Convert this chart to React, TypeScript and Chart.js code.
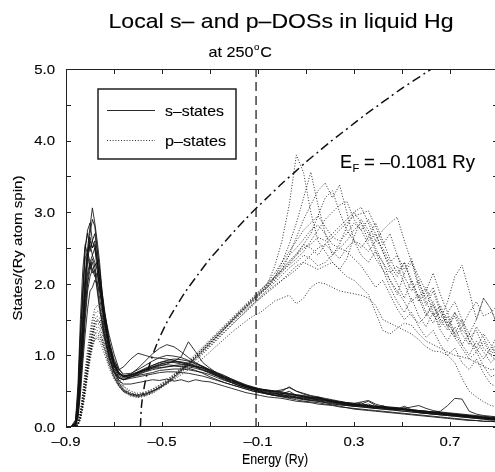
import React, { useEffect, useRef } from "react";
import { Chart, registerables } from "chart.js";

Chart.register(...registerables);

// Energy grid (Ry) shared by all local DOS curves
const ENERGY = [
  -0.90, -0.88, -0.86, -0.85, -0.84, -0.83, -0.82, -0.81, -0.80, -0.79,
  -0.78, -0.77, -0.76, -0.75, -0.74, -0.72, -0.70, -0.68, -0.66, -0.63,
  -0.60, -0.57, -0.54, -0.51, -0.48, -0.45, -0.42, -0.39, -0.36, -0.33,
  -0.30, -0.27, -0.24, -0.21, -0.18, -0.15, -0.12, -0.09, -0.06, -0.03,
  0.00, 0.03, 0.06, 0.09, 0.12, 0.15, 0.18, 0.21, 0.24, 0.27,
  0.30, 0.33, 0.36, 0.39, 0.42, 0.45, 0.48, 0.51, 0.54, 0.57,
  0.60, 0.63, 0.66, 0.69, 0.72, 0.75, 0.78, 0.81, 0.84, 0.87, 0.90,
];

// s-states (solid)
const S1 = [
  0, 0, 0.04, 0.25, 0.8, 1.3, 2.0, 2.5, 2.8, 3.06,
  2.85, 2.6, 2.3, 1.9, 1.6, 1.15, 0.9, 0.76, 0.71, 0.74,
  0.82, 0.92, 1.02, 1.1, 1.15, 1.12, 1.05, 0.97, 0.9, 0.84,
  0.78, 0.72, 0.68, 0.63, 0.6, 0.57, 0.54, 0.52, 0.5, 0.5,
  0.49, 0.47, 0.45, 0.44, 0.42, 0.41, 0.38, 0.36, 0.35, 0.33,
  0.32, 0.31, 0.3, 0.29, 0.28, 0.27, 0.26, 0.25, 0.24, 0.23,
  0.22, 0.21, 0.2, 0.19, 0.18, 0.17, 0.16, 0.15, 0.14, 0.13, 0.12,
];
const S2 = [
  0, 0, 0.06, 0.4, 1.2, 1.8, 2.5, 2.71, 2.45, 2.6,
  2.5, 2.2, 1.95, 1.7, 1.45, 1.05, 0.82, 0.7, 0.66, 0.7,
  0.74, 0.78, 0.82, 0.85, 0.88, 0.92, 0.98, 1.19, 1.05, 0.9,
  0.82, 0.75, 0.7, 0.65, 0.6, 0.56, 0.53, 0.5, 0.48, 0.47,
  0.46, 0.5, 0.44, 0.42, 0.4, 0.38, 0.37, 0.36, 0.34, 0.32,
  0.31, 0.3, 0.32, 0.28, 0.27, 0.26, 0.27, 0.24, 0.23, 0.22,
  0.21, 0.2, 0.19, 0.18, 0.17, 0.16, 0.15, 0.14, 0.13, 0.12, 0.11,
];
const S3 = [
  0, 0, 0.03, 0.2, 0.7, 1.2, 1.8, 2.3, 2.6, 2.5,
  2.55, 2.35, 2.1, 1.8, 1.55, 1.15, 0.92, 0.8, 0.84, 0.95,
  1.03, 1.0, 0.97, 0.96, 0.95, 0.93, 0.9, 0.87, 0.84, 0.8,
  0.76, 0.72, 0.68, 0.64, 0.6, 0.57, 0.55, 0.53, 0.52, 0.5,
  0.48, 0.46, 0.45, 0.43, 0.41, 0.4, 0.38, 0.36, 0.34, 0.33,
  0.31, 0.3, 0.29, 0.28, 0.27, 0.26, 0.25, 0.24, 0.23, 0.22,
  0.21, 0.2, 0.19, 0.18, 0.17, 0.16, 0.15, 0.14, 0.13, 0.12, 0.11,
];
const S4 = [
  0, 0, 0.05, 0.3, 0.9, 1.4, 1.85, 2.15, 2.3, 2.2,
  2.25, 2.05, 1.8, 1.6, 1.35, 1.0, 0.78, 0.65, 0.6, 0.6,
  0.62, 0.64, 0.66, 0.65, 0.67, 0.64, 0.66, 0.63, 0.66, 0.64,
  0.63, 0.6, 0.57, 0.54, 0.51, 0.48, 0.46, 0.44, 0.42, 0.41,
  0.4, 0.38, 0.36, 0.35, 0.34, 0.32, 0.31, 0.3, 0.28, 0.27,
  0.26, 0.25, 0.24, 0.23, 0.22, 0.21, 0.2, 0.19, 0.18, 0.17,
  0.16, 0.15, 0.14, 0.13, 0.12, 0.11, 0.1, 0.09, 0.08, 0.08, 0.07,
];
const S5 = [
  0, 0, 0.08, 0.5, 1.3, 1.9, 2.35, 2.45, 2.3, 2.15,
  2.2, 1.95, 1.7, 1.5, 1.3, 0.98, 0.78, 0.69, 0.66, 0.7,
  0.73, 0.77, 0.8, 0.82, 0.84, 0.85, 0.85, 0.84, 0.82, 0.79,
  0.75, 0.71, 0.67, 0.62, 0.58, 0.55, 0.52, 0.49, 0.47, 0.46,
  0.45, 0.43, 0.42, 0.4, 0.39, 0.38, 0.36, 0.35, 0.33, 0.31,
  0.29, 0.34, 0.28, 0.26, 0.25, 0.24, 0.23, 0.22, 0.21, 0.2,
  0.19, 0.18, 0.17, 0.16, 0.15, 0.14, 0.13, 0.12, 0.11, 0.1, 0.1,
];
const S6 = [
  0, 0, 0.02, 0.15, 0.55, 1.0, 1.5, 1.9, 2.1, 2.2,
  2.1, 2.15, 1.95, 1.7, 1.5, 1.1, 0.88, 0.76, 0.7, 0.7,
  0.72, 0.74, 0.76, 0.79, 0.8, 0.81, 0.81, 0.8, 0.78, 0.76,
  0.73, 0.69, 0.65, 0.62, 0.58, 0.55, 0.52, 0.5, 0.47, 0.45,
  0.44, 0.42, 0.41, 0.39, 0.37, 0.36, 0.34, 0.33, 0.31, 0.3,
  0.29, 0.28, 0.27, 0.26, 0.3, 0.25, 0.23, 0.22, 0.21, 0.2,
  0.19, 0.18, 0.17, 0.17, 0.16, 0.15, 0.14, 0.13, 0.12, 0.11, 0.1,
];
const S7 = [
  0, 0, 0.02, 0.12, 0.45, 0.9, 1.3, 1.65, 1.9, 1.95,
  2.05, 2.0, 1.9, 1.75, 1.6, 1.28, 1.02, 0.82, 0.72, 0.72,
  0.76, 0.8, 0.83, 0.87, 0.9, 0.91, 0.9, 0.88, 0.85, 0.82,
  0.78, 0.74, 0.7, 0.66, 0.62, 0.58, 0.55, 0.52, 0.5, 0.48,
  0.47, 0.46, 0.44, 0.43, 0.41, 0.4, 0.38, 0.37, 0.35, 0.34,
  0.32, 0.31, 0.3, 0.29, 0.28, 0.27, 0.26, 0.25, 0.24, 0.23,
  0.22, 0.21, 0.22, 0.3, 0.4, 0.39, 0.22, 0.18, 0.16, 0.15, 0.14,
];
const S8 = [
  0, 0, 0.05, 0.35, 1.0, 1.6, 2.15, 2.45, 2.55, 2.4,
  2.5, 2.3, 2.05, 1.8, 1.55, 1.12, 0.88, 0.76, 0.71, 0.73,
  0.77, 0.81, 0.86, 0.9, 0.93, 0.95, 0.94, 0.92, 0.88, 0.84,
  0.79, 0.74, 0.69, 0.65, 0.61, 0.57, 0.54, 0.52, 0.51, 0.5,
  0.5, 0.56, 0.5, 0.46, 0.43, 0.41, 0.39, 0.37, 0.35, 0.34,
  0.33, 0.32, 0.36, 0.3, 0.28, 0.27, 0.26, 0.25, 0.24, 0.23,
  0.22, 0.21, 0.2, 0.19, 0.18, 0.17, 0.16, 0.15, 0.14, 0.13, 0.13,
];
const S9 = [
  0, 0, 0.07, 0.45, 1.25, 1.9, 2.5, 2.75, 2.85, 2.6,
  2.7, 2.45, 2.2, 1.9, 1.65, 1.2, 0.9, 0.76, 0.7, 0.72,
  0.76, 0.8, 0.84, 0.86, 0.87, 0.86, 0.84, 0.82, 0.79, 0.75,
  0.7, 0.66, 0.62, 0.59, 0.56, 0.53, 0.5, 0.48, 0.46, 0.44,
  0.43, 0.42, 0.41, 0.39, 0.38, 0.37, 0.35, 0.34, 0.32, 0.31,
  0.3, 0.29, 0.28, 0.27, 0.26, 0.25, 0.24, 0.27, 0.22, 0.21,
  0.2, 0.19, 0.18, 0.17, 0.16, 0.15, 0.14, 0.13, 0.12, 0.11, 0.1,
];
const S10 = [
  0, 0, 0.03, 0.2, 0.65, 1.1, 1.6, 2.0, 2.2, 2.35,
  2.25, 2.3, 2.05, 1.85, 1.6, 1.2, 0.95, 0.8, 0.74, 0.75,
  0.8, 0.86, 0.92, 0.97, 1.0, 0.99, 0.97, 0.93, 0.89, 0.85,
  0.8, 0.75, 0.71, 0.67, 0.63, 0.59, 0.56, 0.53, 0.51, 0.49,
  0.47, 0.45, 0.44, 0.42, 0.4, 0.39, 0.37, 0.35, 0.34, 0.32,
  0.31, 0.3, 0.29, 0.28, 0.27, 0.26, 0.25, 0.24, 0.23, 0.22,
  0.21, 0.2, 0.19, 0.18, 0.17, 0.16, 0.15, 0.14, 0.13, 0.12, 0.11,
];
const S11 = [
  0, 0, 0.03, 0.22, 0.75, 1.35, 1.95, 2.4, 2.7, 2.9,
  2.8, 2.5, 2.2, 1.85, 1.55, 1.12, 0.86, 0.72, 0.68, 0.7,
  0.75, 0.8, 0.84, 0.88, 0.9, 0.9, 0.88, 0.86, 0.84, 0.8,
  0.76, 0.71, 0.66, 0.62, 0.58, 0.55, 0.52, 0.49, 0.46, 0.44,
  0.43, 0.41, 0.4, 0.38, 0.37, 0.36, 0.34, 0.32, 0.31, 0.3,
  0.29, 0.28, 0.27, 0.26, 0.25, 0.24, 0.25, 0.29, 0.24, 0.2,
  0.19, 0.18, 0.17, 0.16, 0.15, 0.14, 0.13, 0.12, 0.11, 0.1, 0.09,
];
const S12 = [
  0, 0, 0.1, 0.6, 1.5, 2.2, 2.55, 2.4, 2.2, 2.3,
  2.15, 1.9, 1.65, 1.45, 1.25, 0.95, 0.76, 0.68, 0.66, 0.68,
  0.7, 0.72, 0.74, 0.76, 0.77, 0.77, 0.76, 0.75, 0.73, 0.71,
  0.68, 0.65, 0.62, 0.59, 0.56, 0.53, 0.5, 0.48, 0.46, 0.44,
  0.42, 0.4, 0.38, 0.36, 0.35, 0.34, 0.32, 0.31, 0.29, 0.27,
  0.25, 0.24, 0.23, 0.22, 0.21, 0.2, 0.19, 0.18, 0.17, 0.16,
  0.15, 0.14, 0.13, 0.12, 0.11, 0.1, 0.09, 0.09, 0.08, 0.08, 0.07,
];
const S13 = [
  0, 0, 0.04, 0.28, 0.85, 1.5, 2.05, 2.4, 2.65, 2.5,
  2.6, 2.35, 2.05, 1.75, 1.5, 1.1, 0.86, 0.74, 0.7, 0.72,
  0.76, 0.79, 0.82, 0.83, 0.84, 0.86, 0.87, 0.86, 0.84, 0.83,
  0.8, 0.76, 0.72, 0.67, 0.62, 0.58, 0.55, 0.53, 0.51, 0.5,
  0.52, 0.55, 0.5, 0.47, 0.44, 0.42, 0.4, 0.38, 0.36, 0.34,
  0.33, 0.35, 0.37, 0.32, 0.29, 0.28, 0.27, 0.26, 0.28, 0.3,
  0.26, 0.23, 0.21, 0.2, 0.19, 0.18, 0.17, 0.16, 0.15, 0.14, 0.13,
];
const S14 = [
  0, 0, 0.02, 0.18, 0.6, 1.15, 1.7, 2.05, 2.3, 2.4,
  2.3, 2.2, 1.95, 1.7, 1.45, 1.08, 0.85, 0.74, 0.71, 0.73,
  0.77, 0.82, 0.86, 0.9, 0.92, 0.92, 0.91, 0.89, 0.86, 0.82,
  0.77, 0.73, 0.69, 0.65, 0.61, 0.57, 0.54, 0.51, 0.49, 0.47,
  0.45, 0.44, 0.42, 0.41, 0.4, 0.42, 0.38, 0.35, 0.33, 0.32,
  0.31, 0.3, 0.29, 0.28, 0.27, 0.26, 0.25, 0.24, 0.23, 0.22,
  0.21, 0.2, 0.19, 0.18, 0.17, 0.16, 0.15, 0.14, 0.13, 0.12, 0.11,
];

// p-states (dotted)
const P1 = [
  0, 0, 0, 0.04, 0.15, 0.35, 0.6, 0.85, 1.1, 1.3,
  1.45, 1.5, 1.48, 1.4, 1.28, 1.0, 0.78, 0.62, 0.52, 0.45,
  0.42, 0.45, 0.5, 0.56, 0.63, 0.72, 0.8, 0.9, 0.98, 1.08,
  1.18, 1.28, 1.38, 1.48, 1.58, 1.67, 1.76, 1.86, 2.0, 2.25,
  2.6, 3.1, 3.8, 3.55, 3.0, 2.6, 2.45, 2.3, 2.2, 2.35,
  2.65, 2.9, 2.75, 2.5, 2.3, 2.05, 1.85, 2.15, 2.3, 1.95,
  1.7, 1.9, 1.6, 1.4, 1.55, 1.3, 1.15, 1.4, 1.25, 1.05, 1.2,
];
const P2 = [
  0, 0, 0, 0.03, 0.12, 0.3, 0.55, 0.8, 1.0, 1.2,
  1.3, 1.32, 1.3, 1.22, 1.12, 0.88, 0.7, 0.57, 0.49, 0.43,
  0.41, 0.43, 0.47, 0.53, 0.6, 0.68, 0.77, 0.86, 0.95, 1.05,
  1.15, 1.25, 1.36, 1.47, 1.57, 1.66, 1.75, 1.85, 1.95, 2.1,
  2.3, 2.55, 2.85, 3.2, 3.56, 3.1, 2.7, 2.4, 2.55, 2.8,
  3.0, 2.85, 2.6, 2.7, 2.45, 2.2, 2.0, 1.8, 2.05, 1.8,
  1.55, 1.75, 1.5, 1.35, 1.6, 1.45, 1.2, 1.1, 1.3, 1.15, 0.95,
];
const P3 = [
  0, 0, 0, 0.05, 0.2, 0.45, 0.75, 1.0, 1.25, 1.45,
  1.58, 1.62, 1.6, 1.5, 1.36, 1.08, 0.84, 0.66, 0.56, 0.48,
  0.45, 0.47, 0.51, 0.57, 0.64, 0.72, 0.81, 0.9, 1.0, 1.1,
  1.2, 1.3, 1.4, 1.5, 1.6, 1.7, 1.8, 1.88, 1.95, 2.05,
  2.2, 2.4, 2.65, 2.9, 3.1, 3.3, 3.41, 3.2, 3.38, 3.0,
  2.6, 2.4, 2.3, 2.45, 2.2, 1.95, 1.75, 1.6, 1.8, 1.55,
  1.4, 1.6, 1.35, 1.2, 1.4, 1.15, 1.0, 1.2, 1.05, 0.9, 1.0,
];
const P4 = [
  0, 0, 0, 0.03, 0.1, 0.25, 0.45, 0.7, 0.92, 1.1,
  1.22, 1.25, 1.24, 1.17, 1.08, 0.86, 0.69, 0.57, 0.49, 0.44,
  0.42, 0.44, 0.48, 0.54, 0.61, 0.69, 0.78, 0.87, 0.96, 1.06,
  1.16, 1.26, 1.37, 1.47, 1.57, 1.67, 1.77, 1.87, 1.97, 2.08,
  2.2, 2.3, 2.4, 2.5, 2.55, 2.65, 2.6, 2.7, 2.8, 2.9,
  3.0, 3.07, 2.85, 2.6, 2.5, 2.3, 2.4, 2.1, 1.9, 2.05,
  1.75, 1.55, 1.7, 1.45, 1.3, 1.5, 1.2, 1.05, 1.2, 1.0, 0.9,
];
const P5 = [
  0, 0, 0, 0.05, 0.18, 0.4, 0.68, 0.95, 1.18, 1.38,
  1.5, 1.55, 1.52, 1.44, 1.3, 1.02, 0.8, 0.64, 0.53, 0.47,
  0.43, 0.45, 0.49, 0.55, 0.62, 0.7, 0.79, 0.88, 0.97, 1.07,
  1.17, 1.27, 1.37, 1.48, 1.59, 1.69, 1.79, 1.9, 2.0, 2.1,
  2.2, 2.32, 2.42, 2.55, 2.5, 2.4, 2.55, 2.65, 2.75, 2.85,
  2.95, 2.98, 3.02, 2.8, 2.55, 2.7, 2.4, 2.2, 2.35, 2.0,
  1.8, 1.95, 1.65, 1.45, 1.6, 1.35, 1.25, 1.35, 1.1, 1.0, 1.15,
];
const P6 = [
  0, 0, 0, 0.02, 0.1, 0.28, 0.5, 0.75, 0.98, 1.15,
  1.25, 1.28, 1.27, 1.2, 1.1, 0.87, 0.7, 0.58, 0.5, 0.45,
  0.44, 0.46, 0.5, 0.55, 0.62, 0.7, 0.79, 0.87, 0.95, 1.04,
  1.13, 1.23, 1.33, 1.43, 1.52, 1.61, 1.7, 1.8, 1.9, 1.98,
  2.05, 2.12, 2.2, 2.3, 2.4, 2.5, 2.55, 2.45, 2.35, 2.5,
  2.6, 2.55, 2.45, 2.6, 2.75, 2.85, 2.93, 2.6, 2.3, 2.1,
  1.9, 2.15, 1.85, 1.6, 1.75, 1.5, 1.3, 1.5, 1.8, 1.65, 1.4,
];
const P7 = [
  0, 0, 0, 0.04, 0.14, 0.32, 0.55, 0.8, 1.0, 1.15,
  1.22, 1.24, 1.2, 1.12, 1.02, 0.82, 0.67, 0.57, 0.5, 0.46,
  0.45, 0.47, 0.5, 0.54, 0.6, 0.66, 0.73, 0.8, 0.88, 0.96,
  1.05, 1.14, 1.23, 1.32, 1.4, 1.48, 1.55, 1.6, 1.68, 1.76,
  1.8, 1.84, 1.72, 1.8, 1.95, 2.02, 2.0, 1.95, 1.9, 1.88,
  1.86, 1.84, 1.8, 1.7, 1.5, 1.45, 1.4, 1.35, 1.3, 1.22,
  1.12, 1.06, 1.05, 1.0, 0.9, 0.68, 0.5, 0.42, 0.35, 0.3, 0.28,
];
const P8 = [
  0, 0, 0, 0.03, 0.12, 0.3, 0.52, 0.78, 1.0, 1.18,
  1.3, 1.35, 1.33, 1.25, 1.14, 0.9, 0.72, 0.59, 0.5, 0.45,
  0.43, 0.45, 0.49, 0.55, 0.62, 0.7, 0.79, 0.88, 0.97, 1.07,
  1.17, 1.27, 1.37, 1.46, 1.55, 1.64, 1.72, 1.8, 1.88, 1.96,
  2.05, 2.15, 2.25, 2.3, 2.25, 2.2, 2.25, 2.3, 2.2, 2.1,
  2.05, 1.95, 1.85, 1.6, 1.35, 1.3, 1.38, 1.45, 1.42, 1.3,
  1.2, 1.15, 1.1, 1.05, 1.0, 0.98, 0.95, 0.9, 0.85, 0.8, 0.82,
];
const P9 = [
  0, 0, 0, 0.04, 0.16, 0.38, 0.62, 0.88, 1.1, 1.28,
  1.4, 1.45, 1.43, 1.35, 1.22, 0.96, 0.76, 0.61, 0.52, 0.47,
  0.45, 0.48, 0.52, 0.58, 0.65, 0.73, 0.82, 0.9, 1.0, 1.1,
  1.2, 1.3, 1.4, 1.5, 1.6, 1.7, 1.8, 1.9, 2.02, 2.15,
  2.3, 2.45, 2.6, 2.75, 2.85, 2.95, 2.8, 2.65, 2.6, 2.7,
  2.85, 2.75, 2.55, 2.35, 2.2, 2.05, 1.9, 1.75, 1.55, 1.45,
  1.55, 1.7, 1.5, 1.75, 2.1, 2.26, 1.9, 1.5, 1.8, 1.65, 1.4,
];
const P10 = [
  0, 0, 0, 0.05, 0.22, 0.5, 0.8, 1.08, 1.32, 1.52,
  1.65, 1.7, 1.66, 1.55, 1.4, 1.1, 0.85, 0.68, 0.57, 0.5,
  0.47, 0.49, 0.53, 0.59, 0.66, 0.74, 0.83, 0.92, 1.02, 1.12,
  1.22, 1.32, 1.42, 1.52, 1.62, 1.72, 1.82, 1.92, 2.0, 2.1,
  2.18, 2.26, 2.35, 2.45, 2.6, 2.75, 2.9, 3.0, 3.1, 3.15,
  2.9, 2.75, 2.9, 2.7, 2.45, 2.25, 2.1, 2.3, 2.0, 1.75,
  1.9, 1.6, 1.4, 1.55, 1.25, 1.1, 0.95, 1.05, 0.85, 0.7, 0.75,
];
const P11 = [
  0, 0, 0, 0.04, 0.15, 0.36, 0.6, 0.85, 1.08, 1.28,
  1.42, 1.48, 1.46, 1.38, 1.25, 0.98, 0.76, 0.6, 0.51, 0.45,
  0.43, 0.45, 0.49, 0.55, 0.62, 0.7, 0.79, 0.88, 0.97, 1.07,
  1.17, 1.27, 1.38, 1.48, 1.58, 1.68, 1.78, 1.88, 1.98, 2.1,
  2.25, 2.4, 2.5, 2.62, 2.75, 2.82, 2.7, 2.55, 2.5, 2.6,
  2.75, 2.85, 2.7, 2.45, 2.3, 2.15, 2.25, 2.0, 1.75, 1.85,
  1.6, 1.45, 1.65, 1.4, 1.25, 1.4, 1.6, 1.75, 1.55, 1.6, 1.7,
];
const P12 = [
  0, 0, 0, 0.03, 0.14, 0.34, 0.58, 0.83, 1.05, 1.22,
  1.35, 1.4, 1.38, 1.3, 1.18, 0.92, 0.72, 0.58, 0.5, 0.45,
  0.44, 0.46, 0.5, 0.56, 0.63, 0.71, 0.8, 0.89, 0.98, 1.08,
  1.18, 1.28, 1.38, 1.48, 1.58, 1.68, 1.78, 1.87, 1.96, 2.06,
  2.16, 2.28, 2.4, 2.55, 2.7, 2.95, 3.2, 3.3, 3.0, 2.75,
  2.6, 2.5, 2.65, 2.85, 2.6, 2.35, 2.15, 2.3, 2.05, 1.8,
  1.95, 1.7, 1.45, 1.6, 1.3, 1.15, 1.3, 1.1, 0.95, 1.1, 1.3,
];
const P13 = [
  0, 0, 0, 0.05, 0.2, 0.42, 0.7, 0.95, 1.15, 1.32,
  1.45, 1.5, 1.47, 1.38, 1.26, 1.0, 0.78, 0.62, 0.52, 0.46,
  0.44, 0.46, 0.5, 0.55, 0.61, 0.68, 0.76, 0.84, 0.93, 1.02,
  1.12, 1.22, 1.32, 1.42, 1.52, 1.62, 1.72, 1.82, 1.92, 2.02,
  2.12, 2.22, 2.3, 2.4, 2.35, 2.25, 2.3, 2.4, 2.5, 2.45,
  2.35, 2.25, 2.1, 1.95, 2.05, 1.85, 1.65, 1.5, 1.6, 1.4,
  1.25, 1.35, 1.15, 1.0, 1.1, 0.9, 0.8, 0.95, 0.75, 0.6, 0.55,
];

const S_STATES = [S1, S2, S3, S4, S5, S6, S7, S8, S9, S10, S11, S12, S13, S14];
const P_STATES = [P1, P2, P3, P4, P5, P6, P7, P8, P9, P10, P11, P12, P13];

// dash-dot reference curve
const FE_ENERGY = [
  -0.59, -0.585, -0.57, -0.55, -0.52, -0.48, -0.44, -0.40, -0.35, -0.30,
  -0.25, -0.20, -0.15, -0.10, -0.05, 0.00, 0.05, 0.10, 0.15, 0.20,
  0.25, 0.30, 0.35, 0.40, 0.45, 0.50, 0.55, 0.60, 0.65, 0.70, 0.75,
];
const FE_DOS = [
  0, 0.31, 0.63, 0.89, 1.17, 1.46, 1.69, 1.9, 2.13, 2.35,
  2.54, 2.73, 2.91, 3.08, 3.24, 3.4, 3.55, 3.7, 3.84, 3.98,
  4.11, 4.24, 4.37, 4.49, 4.61, 4.73, 4.84, 4.95, 5.06, 5.17, 5.28,
];

const FERMI_ENERGY = -0.1081;

const X_TICKS = [-0.9, -0.7, -0.5, -0.3, -0.1, 0.1, 0.3, 0.5, 0.7, 0.9];
const X_LABELED = [-0.9, -0.5, -0.1, 0.3, 0.7];
const Y_TICKS = [0, 0.5, 1, 1.5, 2, 2.5, 3, 3.5, 4, 4.5, 5];
const Y_LABELED = [0, 1, 2, 3, 4, 5];

const TITLE = "Local s\u2013 and p\u2013DOSs in liquid Hg";
const X_TITLE = "Energy (Ry)";
const Y_TITLE = "States/(Ry atom spin)";
const S_LABEL = "s\u2013states";
const P_LABEL = "p\u2013states";

const FONT = '"Liberation Sans", Arial, Helvetica, sans-serif';
const INK = "#000";
const DOT = [1, 1.8];

const fmt = (v: number) => v.toFixed(1).replace("-", "\u2013");

function text(
  ctx: CanvasRenderingContext2D,
  s: string,
  x: number,
  y: number,
  size: number,
  align: "left" | "center" | "right",
  sx: number = 1,
  width?: number
) {
  ctx.save();
  ctx.font = `${size}px ${FONT}`;
  const nat = ctx.measureText(s).width;
  const k = width ? width / nat : sx;
  const w = nat * k;
  const x0 = align === "center" ? x - w / 2 : align === "right" ? x - w : x;
  ctx.translate(x0, y);
  ctx.scale(k, 1);
  ctx.textAlign = "left";
  ctx.textBaseline = "alphabetic";
  ctx.fillStyle = INK;
  ctx.strokeStyle = INK;
  ctx.lineWidth = 0.12;
  ctx.setLineDash([]);
  ctx.fillText(s, 0, 0);
  ctx.strokeText(s, 0, 0);
  ctx.restore();
  return w;
}

const decorations = {
  id: "decorations",
  afterDatasetsDraw(chart: any) {
    const { ctx, chartArea: a, scales } = chart;
    const xs = scales.x;
    const ys = scales.y;
    ctx.save();
    ctx.strokeStyle = "#222";
    ctx.lineWidth = 1;
    ctx.setLineDash([]);
    ctx.strokeRect(a.left + 0.5, a.top + 0.5, a.right - a.left - 1, a.bottom - a.top - 1);

    const seg = (x1: number, y1: number, x2: number, y2: number) => {
      ctx.beginPath();
      ctx.moveTo(x1, y1);
      ctx.lineTo(x2, y2);
      ctx.stroke();
    };
    X_TICKS.forEach((v) => {
      const px = Math.round(xs.getPixelForValue(v)) + 0.5;
      seg(px, a.bottom, px, a.bottom - 5);
      seg(px, a.top, px, a.top + 5);
    });
    Y_TICKS.forEach((v) => {
      const py = Math.round(ys.getPixelForValue(v)) + 0.5;
      seg(a.left, py, a.left + 5, py);
      seg(a.right, py, a.right - 5, py);
    });

    // tick labels
    X_LABELED.forEach((v) => {
      text(ctx, fmt(v), xs.getPixelForValue(v), a.bottom + 19, 13, "center", 1.15);
    });
    Y_LABELED.forEach((v) => {
      text(ctx, fmt(v), a.left - 11, ys.getPixelForValue(v) + 4.7, 13, "right", 1.15);
    });

    // axis titles
    text(ctx, X_TITLE, 275, 464, 14, "center", 1, 66);
    ctx.save();
    ctx.translate(22, (a.top + a.bottom) / 2);
    ctx.rotate(-Math.PI / 2);
    text(ctx, Y_TITLE, 0, 0, 13, "center", 1, 145);
    ctx.restore();

    // titles
    text(ctx, TITLE, 281, 28, 21, "center", 1, 345);
    {
      ctx.font = `15px ${FONT}`;
      const k = 1.08;
      const w1 = ctx.measureText("at 250").width * k;
      ctx.font = `9px ${FONT}`;
      const w2 = ctx.measureText("o").width * k;
      ctx.font = `15px ${FONT}`;
      const w3 = ctx.measureText("C").width * k;
      const total = w1 + w2 + 1 + w3;
      const x0 = 240 - total / 2;
      text(ctx, "at 250", x0, 57, 15, "left", k);
      text(ctx, "o", x0 + w1 + 0.5, 50, 9, "left", k);
      text(ctx, "C", x0 + w1 + w2 + 1.5, 57, 15, "left", k);
    }

    // Fermi energy label
    {
      const ew = text(ctx, "E", 340, 168, 18, "left", 1);
      text(ctx, "F", 340 + ew + 0.5, 172, 11, "left", 1);
      text(ctx, "= \u20130.1081 Ry", 364, 168, 18, "left", 1, 111);
    }

    // legend box
    const lx = a.left + 32;
    const ly = a.top + 20;
    ctx.lineWidth = 1.4;
    ctx.strokeStyle = "#111";
    ctx.setLineDash([]);
    ctx.strokeRect(lx, ly, 138, 70);
    ctx.lineWidth = 0.9;
    seg(lx + 9, ly + 21.5, lx + 57, ly + 21.5);
    ctx.setLineDash(DOT);
    seg(lx + 9, ly + 51.5, lx + 57, ly + 51.5);
    ctx.setLineDash([]);
    text(ctx, S_LABEL, lx + 67, ly + 27, 15, "left", 1, 59);
    text(ctx, P_LABEL, lx + 67, ly + 57, 15, "left", 1, 61);

    ctx.restore();
  },
};

export default function App() {
  const ref = useRef<HTMLCanvasElement | null>(null);

  useEffect(() => {
    if (!ref.current) return;
    const toPts = (xsArr: number[], ysArr: number[]) =>
      xsArr.map((x, i) => ({ x, y: ysArr[i] }));

    const datasets: any[] = [
      ...P_STATES.map((ys, i) => ({
        label: `p-states ${i + 1}`,
        data: toPts(ENERGY, ys),
        borderColor: "#1a1a1a",
        borderWidth: 0.9,
        borderDash: DOT,
        pointRadius: 0,
        tension: 0,
        fill: false,
      })),
      ...S_STATES.map((ys, i) => ({
        label: `s-states ${i + 1}`,
        data: toPts(ENERGY, ys),
        borderColor: "#111",
        borderWidth: 0.85,
        pointRadius: 0,
        tension: 0,
        fill: false,
      })),
      {
        label: "free electron",
        data: toPts(FE_ENERGY, FE_DOS),
        borderColor: "#111",
        borderWidth: 1.5,
        borderDash: [9, 4, 2, 4],
        pointRadius: 0,
        tension: 0.3,
        fill: false,
      },
      {
        label: "E_F",
        data: [
          { x: FERMI_ENERGY, y: 0 },
          { x: FERMI_ENERGY, y: 5 },
        ],
        borderColor: "#111",
        borderWidth: 1.2,
        borderDash: [9, 5],
        pointRadius: 0,
        fill: false,
      },
    ];

    const chart = new Chart(ref.current, {
      type: "line",
      data: { datasets },
      options: {
        responsive: false,
        animation: false,
        devicePixelRatio: 1,
        layout: { padding: { left: 0, right: 62, top: 69, bottom: 0 } },
        plugins: {
          legend: { display: false },
          tooltip: { enabled: false },
          title: { display: false },
        },
        scales: {
          x: {
            type: "linear",
            min: -0.9,
            max: 0.9,
            ticks: { display: false },
            grid: { display: false },
            border: { display: false },
            afterBuildTicks: (s: any) => {
              s.ticks = X_TICKS.map((v) => ({ value: v }));
            },
            afterFit: (s: any) => {
              s.height = 45;
            },
          },
          y: {
            type: "linear",
            min: 0,
            max: 5,
            ticks: { display: false },
            grid: { display: false },
            border: { display: false },
            afterBuildTicks: (s: any) => {
              s.ticks = Y_TICKS.map((v) => ({ value: v }));
            },
            afterFit: (s: any) => {
              s.width = 66;
            },
          },
        },
      } as any,
      plugins: [decorations],
    });
    return () => chart.destroy();
  }, []);

  return (
    <div
      style={{
        position: "fixed",
        left: 0,
        top: 0,
        width: 495,
        height: 472,
        overflow: "hidden",
        background: "#fff",
      }}
    >
      <canvas ref={ref} width={560} height={472} style={{ display: "block" }} />
    </div>
  );
}
